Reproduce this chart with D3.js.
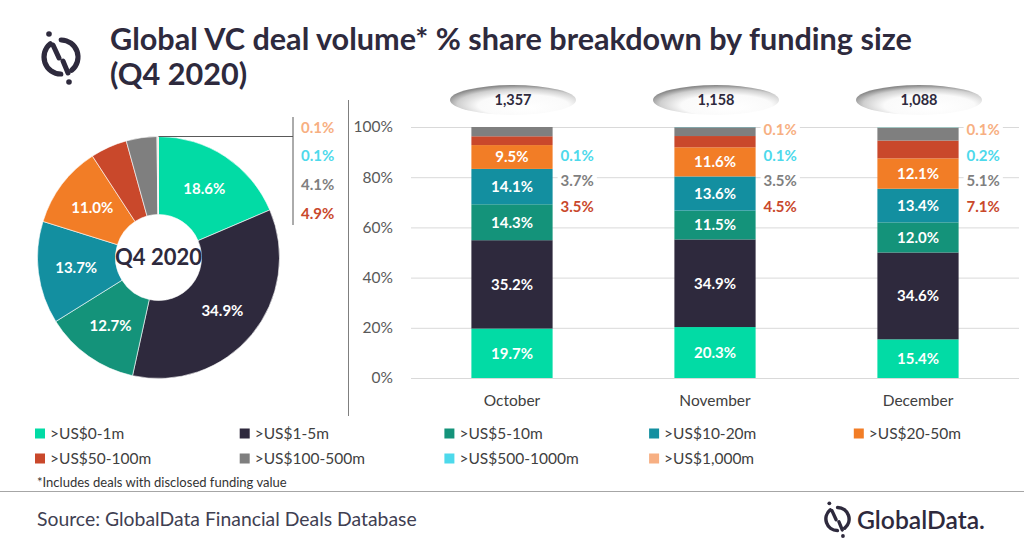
<!DOCTYPE html>
<html><head><meta charset="utf-8">
<script src="https://cdn.jsdelivr.net/npm/d3@7"></script>
<style>
body{margin:0;background:#fff}
svg{display:block}
text{font-family:Lato,"Open Sans",sans-serif}
</style>
</head><body>
<svg id="c" width="1024" height="549"></svg>
<script>
// ---------- data ----------
const categories = [">US$0-1m", ">US$1-5m", ">US$5-10m", ">US$10-20m", ">US$20-50m",
  ">US$50-100m", ">US$100-500m", ">US$500-1000m", ">US$1,000m"];
const colors = ["#02DBA5","#2E293D","#14937A","#138FA0","#F27D26","#C9482B","#7F7F7F","#4DD9EB","#F7AF82"];
const months = ["October","November","December"];
const dealCounts = ["1,357","1,158","1,088"];
const octValues = [19.7,35.2,14.3,14.1,9.5,3.5,3.7,0.1,0.0];
const novValues = [20.3,34.9,11.5,13.6,11.6,4.5,3.5,0.1,0.1];
const decValues = [15.4,34.6,12.0,13.4,12.1,7.1,5.1,0.2,0.1];
const q4Values  = [18.6,34.9,12.7,13.7,11.0,4.9,4.1,0.1,0.1];
const yTicks = [0,20,40,60,80,100];
const titleLine1 = "Global VC deal volume* % share breakdown by funding size";
const titleLine2 = "(Q4 2020)";
const footnote = "*Includes deals with disclosed funding value";
const sourceText = "Source: GlobalData Financial Deals Database";

// ---------- helpers ----------
const svg = d3.select("#c");
const fmt = v => v.toFixed(1) + "%";
function fit(sel, w){
  const l = sel.node().getComputedTextLength();
  const fs = parseFloat(sel.attr("font-size"));
  sel.attr("font-size", fs * w / l);
  return fs * w / l;
}
const ink = "#2E2A3D";

function drawLogo(g, s){
  const r = 17 * s;
  const arc = d3.arc().innerRadius(r - 2.6*s).outerRadius(r + 2.6*s).cornerRadius(2.6*s);
  const deg = Math.PI/180;
  g.append("path").attr("d", arc({startAngle:-8*deg, endAngle:150*deg})).attr("fill", ink);
  g.append("path").attr("d", arc({startAngle:172*deg, endAngle:330*deg})).attr("fill", ink);
  g.append("line").attr("x1",-8*s).attr("y1",-12*s).attr("x2",-2*s).attr("y2",1*s)
    .attr("stroke",ink).attr("stroke-width",5*s).attr("stroke-linecap","round");
  g.append("line").attr("x1",2*s).attr("y1",4*s).attr("x2",7*s).attr("y2",16*s)
    .attr("stroke",ink).attr("stroke-width",5*s).attr("stroke-linecap","round");
  g.append("circle").attr("cx",-12*s).attr("cy",-23*s).attr("r",2.8*s).attr("fill",ink);
  g.append("circle").attr("cx",8*s).attr("cy",25*s).attr("r",2.8*s).attr("fill",ink);
}

// ---------- header ----------
drawLogo(svg.append("g").attr("transform","translate(61,57)"), 1);
const t1 = svg.append("text").attr("x",110).attr("y",50).attr("font-size",26)
  .attr("font-weight",700).attr("fill",ink).text(titleLine1);
const tfs = fit(t1, 802);
svg.append("text").attr("x",110).attr("y",85).attr("font-size",tfs)
  .attr("font-weight",700).attr("fill",ink).text(titleLine2);

// ---------- donut ----------
const pieCx = 158.5, pieCy = 257.5, outerR = 121, innerR = 43;
const pieG = svg.append("g").attr("transform",`translate(${pieCx},${pieCy})`);
const pie = d3.pie().sort(null).value(d => d.v)(q4Values.map((v,i)=>({v,i})));
const arc = d3.arc().innerRadius(innerR).outerRadius(outerR);
const labelArc = d3.arc().innerRadius(83).outerRadius(83);
pieG.selectAll("path.slice").data(pie).join("path").attr("class","slice")
  .attr("d", arc).attr("fill", d => colors[d.data.i]).attr("stroke","#fff").attr("stroke-width",0.6);
pieG.selectAll("text.pl").data(pie.filter(d => d.data.v >= 9)).join("text").attr("class","pl")
  .attr("transform", d => `translate(${labelArc.centroid(d)})`)
  .attr("text-anchor","middle").attr("dy","0.36em").attr("font-size",15).attr("font-weight",700)
  .attr("fill","#fff").text(d => fmt(d.data.v));
pieG.append("text").attr("text-anchor","middle").attr("dy","0.36em").attr("font-size",22)
  .attr("font-weight",700).attr("fill",ink).text("Q4 2020");

// leader + small slice labels
const leadX = 293;
svg.append("path").attr("d",`M${pieCx},${pieCy-outerR}H${leadX}M${leadX},117V225`)
  .attr("stroke","#595959").attr("stroke-width",1).attr("fill","none");
const smallOrder = [8,7,6,5];
smallOrder.forEach((ci,k) => {
  svg.append("text").attr("x",leadX+8).attr("y",127.3 + k*28.7).attr("dy","0.36em")
    .attr("font-size",15).attr("font-weight",700)
    .attr("fill", colors[ci]).text(fmt(q4Values[ci]));
});

// separator
svg.append("line").attr("x1",348.5).attr("x2",348.5).attr("y1",100).attr("y2",416)
  .attr("stroke","#7F7F7F").attr("stroke-width",1);

// ---------- stacked bars ----------
const rows = months.map((m,mi) => {
  const vals = [octValues, novValues, decValues][mi];
  const o = {month:m};
  categories.forEach((c,ci) => o[c] = vals[ci]);
  return o;
});
const x = d3.scaleBand().domain(months).range([410.5,1019.5]).paddingInner(0.6).paddingOuter(0.3);
const y = d3.scaleLinear().domain([0,100]).range([378,127]);

const grid = svg.append("g").attr("transform","translate(411,0)")
  .call(d3.axisLeft(y).tickValues(yTicks).tickSize(-(1019-411)).tickFormat(d => d + "%"));
grid.select(".domain").remove();
grid.selectAll(".tick line").attr("stroke","#D9D9D9");
grid.selectAll(".tick text").attr("x",-18).attr("font-size",15.5).attr("fill","#595959")
  .attr("font-family","Lato,'Open Sans',sans-serif");

const stack = d3.stack().keys(categories)(rows);
const segG = svg.append("g");
stack.forEach((layer,ci) => {
  segG.selectAll(null).data(layer).join("rect")
    .attr("x", d => x(d.data.month)).attr("width", x.bandwidth())
    .attr("y", d => y(Math.min(d[1],100))).attr("height", d => Math.max(0, y(d[0]) - y(Math.min(d[1],100))))
    .attr("fill", colors[ci]);
  segG.selectAll(null).data(layer.filter(d => d[1]-d[0] >= 9)).join("text")
    .attr("x", d => x(d.data.month) + x.bandwidth()/2)
    .attr("y", d => y((d[0]+d[1])/2)).attr("dy","0.36em").attr("text-anchor","middle")
    .attr("font-size",15).attr("font-weight",700).attr("fill","#fff")
    .text(d => fmt(d[1]-d[0]));
});

// outside labels for small segments
rows.forEach(r => {
  smallOrder.forEach((ci,k) => {
    const v = r[categories[ci]];
    if (v <= 0) return;
    const tx = x(r.month) + x.bandwidth() + 8;
    const ty = y(100) + 3 + k*25.5;
    const t = svg.append("text").attr("x",tx).attr("y",ty).attr("dy","0.36em")
      .attr("font-size",15).attr("font-weight",700)
      .attr("fill", colors[ci]).text(fmt(v));
    const bb = t.node().getBBox();
    svg.insert("rect", () => t.node()).attr("x",bb.x-3).attr("y",bb.y).attr("width",bb.width+6)
      .attr("height",bb.height).attr("fill","#fff");
  });
});

// month labels
const xa = svg.append("g").attr("transform","translate(0,378)")
  .call(d3.axisBottom(x).tickSize(0));
xa.select(".domain").remove();
xa.selectAll(".tick text").attr("y",17).attr("dy","0.71em").attr("font-size",15.5)
  .attr("fill","#404040").attr("font-family","Lato,'Open Sans',sans-serif");

// deal-count bubbles
const defs = svg.append("defs");
const rg = defs.append("radialGradient").attr("id","bub").attr("cx","0.56").attr("cy","0.62")
  .attr("r","0.6").attr("fx","0.62").attr("fy","0.78");
rg.append("stop").attr("offset","0").attr("stop-color","#ffffff");
rg.append("stop").attr("offset","0.6").attr("stop-color","#fafafa");
rg.append("stop").attr("offset","0.85").attr("stop-color","#cfcfcf");
rg.append("stop").attr("offset","1").attr("stop-color","#8c8c8c");
const bub = svg.append("g").selectAll("g").data(months).join("g")
  .attr("transform", m => `translate(${x(m)+x.bandwidth()/2+1},100)`);
bub.append("ellipse").attr("rx",63).attr("ry",15).attr("fill","url(#bub)");
bub.append("text").attr("text-anchor","middle").attr("dy","0.36em").attr("font-size",14.5)
  .attr("font-weight",700).attr("fill",ink).text((m,i) => dealCounts[i]);

// ---------- legend ----------
const lg = svg.append("g").selectAll("g").data(categories).join("g")
  .attr("transform", (d,i) => `translate(${35 + (i%5)*204.7},${433.5 + Math.floor(i/5)*25})`);
lg.append("rect").attr("x",0).attr("y",-5).attr("width",10).attr("height",10)
  .attr("fill", (d,i) => colors[i]);
lg.append("text").attr("x",15).attr("dy","0.36em").attr("font-size",15.5)
  .attr("fill","#404040").text(d => d);

// footnote
const fn = svg.append("text").attr("x",37).attr("y",487).attr("font-size",12)
  .attr("fill","#333").text(footnote);
fit(fn, 250);

// rule
svg.append("line").attr("x1",0).attr("x2",1024).attr("y1",491.5).attr("y2",491.5)
  .attr("stroke","#A6A6A6").attr("stroke-width",1.2);

// source
const src = svg.append("text").attr("x",37).attr("y",526).attr("font-size",18)
  .attr("fill","#404052").text(sourceText);
fit(src, 380);

// footer brand
drawLogo(svg.append("g").attr("transform","translate(837.5,519)"), 0.68);
const gd = svg.append("text").attr("x",857).attr("y",520).attr("dy","0.36em")
  .attr("font-family","Inter, sans-serif").attr("font-weight",600).attr("font-size",22)
  .attr("fill",ink).text("GlobalData.");
fit(gd, 128);
</script>
</body></html>
